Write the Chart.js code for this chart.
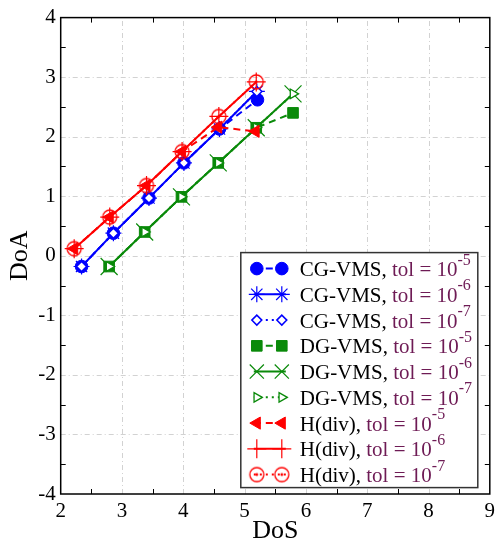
<!DOCTYPE html>
<html>
<head>
<meta charset="utf-8">
<script src="https://cdn.jsdelivr.net/npm/chart.js@4/dist/chart.umd.min.js"></script>
<style>
  html, body { margin: 0; padding: 0; background: #ffffff; }
  #wrap { width: 503px; height: 548px; }
</style>
</head>
<body>
<div id="wrap"><canvas id="chart" width="503" height="548"></canvas></div>
<script>
// Degree of symmetry (DoS) vs degree of asymmetry (DoA) per method and solver tolerance.
const methodNames = ['CG-VMS', 'CG-VMS', 'CG-VMS', 'DG-VMS', 'DG-VMS', 'DG-VMS', 'H(div)', 'H(div)', 'H(div)'];
const tolExponents = ['-5', '-6', '-7', '-5', '-6', '-7', '-5', '-6', '-7'];

const cgDoS_tol5 = [2.34, 2.86, 3.44, 4.01, 4.59, 5.21];
const cgDoA_tol5 = [-0.18, 0.38, 0.97, 1.56, 2.13, 2.62];
const cgDoS_tol6 = [2.34, 2.86, 3.44, 4.01, 4.59, 5.20];
const cgDoA_tol6 = [-0.18, 0.38, 0.97, 1.56, 2.13, 2.76];
const cgDoS_tol7 = [2.34, 2.86, 3.44, 4.01, 4.59, 5.20];
const cgDoA_tol7 = [-0.18, 0.38, 0.97, 1.56, 2.13, 2.76];

const dgDoS_tol5 = [2.79, 3.37, 3.97, 4.57, 5.19, 5.79];
const dgDoA_tol5 = [-0.18, 0.40, 0.99, 1.56, 2.15, 2.40];
const dgDoS_tol6 = [2.79, 3.37, 3.97, 4.57, 5.19, 5.79];
const dgDoA_tol6 = [-0.18, 0.40, 0.99, 1.56, 2.15, 2.72];
const dgDoS_tol7 = [2.79, 3.37, 3.97, 4.57, 5.19, 5.79];
const dgDoA_tol7 = [-0.18, 0.40, 0.99, 1.56, 2.15, 2.72];

const hdivDoS_tol5 = [2.22, 2.80, 3.40, 3.98, 4.57, 5.18];
const hdivDoA_tol5 = [0.12, 0.65, 1.18, 1.75, 2.16, 2.09];
const hdivDoS_tol6 = [2.22, 2.80, 3.40, 3.98, 4.58, 5.19];
const hdivDoA_tol6 = [0.12, 0.65, 1.18, 1.75, 2.34, 2.92];
const hdivDoS_tol7 = [2.22, 2.80, 3.40, 3.98, 4.58, 5.19];
const hdivDoA_tol7 = [0.12, 0.65, 1.18, 1.75, 2.34, 2.92];

const xTickValues = [2, 3, 4, 5, 6, 7, 8, 9];
const yTickValues = [-4, -3, -2, -1, 0, 1, 2, 3, 4];

const BLUE = '#0000ff', GREEN = '#0a8a0a', RED = '#ff0000', TOL_COLOR = '#6e1b55';
const SERIF = '"Liberation Serif", "Times New Roman", serif';

const pts = (xs, ys) => xs.map((x, i) => ({ x, y: ys[i] }));

// Hollow circle with a centre dot, used as a point style.
function circleDot(color) {
  const c = document.createElement('canvas');
  c.width = 18; c.height = 18;
  const g = c.getContext('2d');
  g.strokeStyle = color; g.lineWidth = 1.3;
  g.beginPath(); g.arc(9, 9, 7, 0, Math.PI * 2); g.stroke();
  g.fillStyle = color;
  g.beginPath(); g.arc(9, 9, 1.4, 0, Math.PI * 2); g.fill();
  return c;
}

const DASHED = [7, 5], DOTTED = [2, 4], SOLID = [];

function series(label, data, color, dash, style, radius, fill, rotation, pbw) {
  return {
    label, data,
    borderColor: color, borderWidth: 2, borderDash: dash,
    pointStyle: style, pointRadius: radius, pointHoverRadius: radius,
    pointBackgroundColor: fill, pointBorderColor: color,
    pointBorderWidth: pbw, pointRotation: rotation,
    showLine: true, fill: false, tension: 0
  };
}

const datasets = [
  series('CG5', pts(cgDoS_tol5, cgDoA_tol5), BLUE, DASHED, 'circle', 6.3, BLUE, 0, 1),
  series('CG6', pts(cgDoS_tol6, cgDoA_tol6), BLUE, SOLID, 'star', 8, BLUE, 0, 1.2),
  series('CG7', pts(cgDoS_tol7, cgDoA_tol7), BLUE, DOTTED, 'rectRot', 5, '#ffffff', 0, 1.5),
  series('DG5', pts(dgDoS_tol5, dgDoA_tol5), GREEN, DASHED, 'rect', 7.5, GREEN, 0, 1),
  series('DG6', pts(dgDoS_tol6, dgDoA_tol6), GREEN, SOLID, 'crossRot', 12, GREEN, 0, 1.2),
  series('DG7', pts(dgDoS_tol7, dgDoA_tol7), GREEN, DOTTED, 'triangle', 5.5, '#ffffff', 90, 1.3),
  series('H5', pts(hdivDoS_tol5, hdivDoA_tol5), RED, DASHED, 'triangle', 7, RED, -90, 1),
  series('H6', pts(hdivDoS_tol6, hdivDoA_tol6), RED, SOLID, 'cross', 9.5, RED, 0, 1.2),
  series('H7', pts(hdivDoS_tol7, hdivDoA_tol7), RED, DOTTED, circleDot(RED), 8, RED, 0, 1)
];
// later series drawn on top
datasets.forEach((d, i) => { d.order = datasets.length - i; });

// Dash-dot grid, frame and inward half-unit ticks.
const framePlugin = {
  id: 'frame',
  beforeDatasetsDraw(chart) {
    const { ctx, chartArea: a, scales: { x, y } } = chart;
    ctx.save();
    ctx.strokeStyle = '#d2d2d2'; ctx.lineWidth = 1; ctx.setLineDash([5, 3, 1, 3]);
    xTickValues.slice(1, -1).forEach(v => {
      const px = Math.round(x.getPixelForValue(v)) + 0.5;
      ctx.beginPath(); ctx.moveTo(px, a.bottom); ctx.lineTo(px, a.top); ctx.stroke();
    });
    yTickValues.slice(1, -1).forEach(v => {
      const py = Math.round(y.getPixelForValue(v)) + 0.5;
      ctx.beginPath(); ctx.moveTo(a.left, py); ctx.lineTo(a.right, py); ctx.stroke();
    });
    ctx.restore();
  },
  afterDatasetsDraw(chart) {
    const { ctx, chartArea: a, scales: { x, y } } = chart;
    ctx.save();
    ctx.strokeStyle = '#000'; ctx.lineWidth = 1; ctx.setLineDash([]);
    const L = 5;
    for (let i = 0; i < xTickValues.length - 1; i++) {
      const px = Math.round(x.getPixelForValue(xTickValues[i] + 0.5)) + 0.5;
      ctx.beginPath();
      ctx.moveTo(px, a.bottom); ctx.lineTo(px, a.bottom - L);
      ctx.moveTo(px, a.top); ctx.lineTo(px, a.top + L);
      ctx.stroke();
    }
    for (let i = 0; i < yTickValues.length - 1; i++) {
      const py = Math.round(y.getPixelForValue(yTickValues[i] + 0.5)) + 0.5;
      ctx.beginPath();
      ctx.moveTo(a.left, py); ctx.lineTo(a.left + L, py);
      ctx.moveTo(a.right, py); ctx.lineTo(a.right - L, py);
      ctx.stroke();
    }
    ctx.lineWidth = 1.5;
    ctx.strokeRect(a.left, a.top, a.right - a.left, a.bottom - a.top);
    ctx.restore();
  }
};

// Legend with coloured "tol = 10^k" labels.
const legendPlugin = {
  id: 'tolLegend',
  afterDraw(chart) {
    const { ctx, chartArea: a } = chart;
    const bx = a.right - 249, by = a.top + 235, bw = 237, bh = 235;
    ctx.save();
    ctx.fillStyle = '#ffffff';
    ctx.fillRect(bx, by, bw, bh);
    ctx.strokeStyle = '#333333'; ctx.lineWidth = 1.5;
    ctx.strokeRect(bx, by, bw, bh);
    const rowH = 25.75, y0 = by + 16;
    chart.data.datasets.forEach((ds, i) => {
      const cy = y0 + i * rowH;
      ctx.save();
      ctx.strokeStyle = ds.borderColor; ctx.lineWidth = 2; ctx.setLineDash(ds.borderDash);
      ctx.beginPath(); ctx.moveTo(bx + 13, cy); ctx.lineTo(bx + 45, cy); ctx.stroke();
      ctx.setLineDash([]);
      [bx + 16, bx + 41].forEach(mx => {
        ctx.fillStyle = ds.pointBackgroundColor; ctx.strokeStyle = ds.pointBorderColor;
        ctx.lineWidth = ds.pointBorderWidth;
        Chart.helpers.drawPoint(ctx, {
          pointStyle: ds.pointStyle, rotation: ds.pointRotation,
          radius: Math.min(ds.pointRadius, 10), borderWidth: ds.pointBorderWidth
        }, mx, cy);
      });
      ctx.restore();
      const base = cy + 7.5;
      let tx = bx + 59;
      ctx.textBaseline = 'alphabetic'; ctx.textAlign = 'left';
      ctx.font = '21px ' + SERIF;
      ctx.fillStyle = '#000000';
      const m = methodNames[i] + ', ';
      ctx.fillText(m, tx, base); tx += ctx.measureText(m).width;
      ctx.fillStyle = TOL_COLOR;
      const t = 'tol = 10';
      ctx.fillText(t, tx, base); tx += ctx.measureText(t).width;
      ctx.font = '16px ' + SERIF;
      ctx.fillText(tolExponents[i], tx, base - 11.5);
    });
    ctx.restore();
  }
};

function draw() {
  new Chart(document.getElementById('chart'), {
    type: 'scatter',
    data: { datasets },
    options: {
      responsive: false,
      animation: false,
      devicePixelRatio: 1,
      layout: { padding: { left: 0, right: 12.3, top: 11.7, bottom: 0 } },
      plugins: { legend: { display: false }, tooltip: { enabled: false } },
      scales: {
        x: {
          type: 'linear', min: 2, max: 9,
          afterBuildTicks: s => { s.ticks = xTickValues.map(v => ({ value: v })); },
          afterFit: s => { s.height = 54; },
          grid: { display: false, drawTicks: false }, border: { display: false },
          ticks: { color: '#000', font: { family: SERIF, size: 21 }, padding: 5, maxRotation: 0 },
          title: { display: true, text: 'DoS', color: '#000', font: { family: SERIF, size: 26 }, padding: { top: 0, bottom: 1 } }
        },
        y: {
          type: 'linear', min: -4, max: 4,
          afterBuildTicks: s => { s.ticks = yTickValues.map(v => ({ value: v })); },
          afterFit: s => { s.width = 60.7; },
          grid: { display: false, drawTicks: false }, border: { display: false },
          ticks: { color: '#000', font: { family: SERIF, size: 21 }, padding: 5 },
          title: { display: true, text: 'DoA', color: '#000', font: { family: SERIF, size: 26 }, padding: { top: 5, bottom: 0 } }
        }
      }
    },
    plugins: [framePlugin, legendPlugin]
  });
}

if (document.fonts && document.fonts.load) {
  document.fonts.load('21px "Liberation Serif"').then(draw, draw);
} else {
  draw();
}
</script>
</body>
</html>
